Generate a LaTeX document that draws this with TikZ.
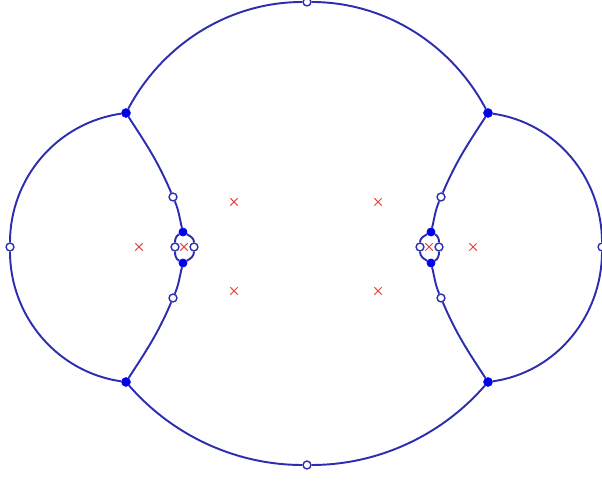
\documentclass[tikz,border=0pt]{standalone}
\usetikzlibrary{shapes.misc}
\definecolor{LocusBlue}{RGB}{45,45,175}
\definecolor{DotBlue}{RGB}{0,0,235}
\definecolor{PoleRed}{RGB}{225,70,70}
\begin{document}
\begin{tikzpicture}[x=0.02cm,y=0.02cm,
  locus/.style={line width=1.1pt,LocusBlue},
  fdot/.style={circle,fill=DotBlue,draw=DotBlue,inner sep=0pt,minimum size=5pt},
  odot/.style={circle,fill=white,draw=LocusBlue,line width=0.8pt,inner sep=0pt,minimum size=4.5pt},
  pole/.style={cross out,draw=PoleRed,line width=0.6pt,inner sep=0pt,minimum size=3.6pt},
]
\useasboundingbox (0,0) rectangle (602,503);
\node[fdot] (tl) at (126,390) {};
\node[fdot] (tr) at (488,390) {};
\node[fdot] (bl) at (126,121) {};
\node[fdot] (br) at (488,121) {};
\node[odot] (top) at (307,501) {};
\node[odot] (bot) at (307,38) {};
\node[odot] (lft) at (10,256) {};
\node[odot] (rgt) at (602,256) {};
\node[odot] (ulo) at (173,306) {};
\node[odot] (llo) at (173,205) {};
\node[odot] (uro) at (441,306) {};
\node[odot] (lro) at (441,205) {};
\node[fdot,minimum size=4.6pt] (lt) at (183,271) {};
\node[fdot,minimum size=4.6pt] (lb) at (183,240) {};
\node[fdot,minimum size=4.6pt] (rt) at (431,271) {};
\node[fdot,minimum size=4.6pt] (rb) at (431,240) {};
\node[odot] (ll) at (175,256) {};
\node[odot] (lr) at (194,256) {};
\node[odot] (rl) at (420,256) {};
\node[odot] (rr) at (439,256) {};
\node[pole] (p1) at (139,256) {};
\node[pole] (p2) at (184,256) {};
\node[pole] (p3) at (234,301) {};
\node[pole] (p4) at (234,212) {};
\node[pole] (p5) at (378,301) {};
\node[pole] (p6) at (378,212) {};
\node[pole] (p7) at (429,256) {};
\node[pole] (p8) at (473,256) {};
\draw[locus,looseness=0.92] (tl) to[out=62,in=180] (top) to[out=0,in=118] (tr);
\draw[locus,looseness=0.89] (bl) to[out=-49,in=180] (bot) to[out=0,in=-131] (br);
\draw[locus,looseness=0.97] (tl) to[out=188,in=90] (lft) to[out=-90,in=172] (bl);
\draw[locus,looseness=0.97] (tr) to[out=-8,in=90] (rgt) to[out=-90,in=8] (br);
\draw[locus] (tl) to[out=-57,in=113] (ulo) to[out=-67,in=104] (lt);
\draw[locus] (lt) to[out=210,in=90] (ll) to[out=-90,in=150] (lb)
  to[out=30,in=-90] (lr) to[out=90,in=-30] (lt);
\draw[locus] (lb) to[out=-104,in=67] (llo) to[out=-113,in=57] (bl);
\draw[locus] (tr) to[out=-123,in=67] (uro) to[out=-113,in=76] (rt);
\draw[locus] (rt) to[out=210,in=90] (rl) to[out=-90,in=150] (rb)
  to[out=30,in=-90] (rr) to[out=90,in=-30] (rt);
\draw[locus] (rb) to[out=-76,in=113] (lro) to[out=-67,in=123] (br);
\end{tikzpicture}
\end{document}
